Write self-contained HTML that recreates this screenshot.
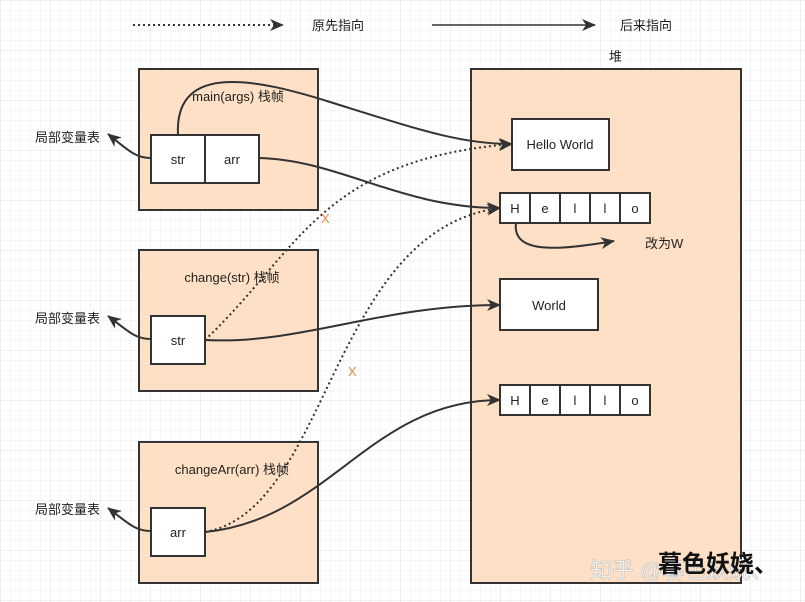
<!DOCTYPE html>
<html><head><meta charset="utf-8"><style>
body{margin:0;width:805px;height:602px;overflow:hidden;background:#fff;}
svg{display:block}
text{font-family:"Liberation Sans","Noto Sans CJK SC",sans-serif;font-size:13px;fill:#222;}
</style></head><body>
<svg width="805" height="602" viewBox="0 0 805 602" xmlns="http://www.w3.org/2000/svg">
<defs>
<pattern id="g" width="10" height="10" patternUnits="userSpaceOnUse"><path d="M10 0H0V10" fill="none" stroke="#eeeeee" stroke-width="1"/></pattern>
<pattern id="G" width="50" height="50" patternUnits="userSpaceOnUse"><rect width="50" height="50" fill="url(#g)"/><path d="M50 0H0V50" fill="none" stroke="#e2e2e2" stroke-width="1"/></pattern>
<marker id="a" markerWidth="14" markerHeight="12" refX="13" refY="6" orient="auto" markerUnits="userSpaceOnUse"><path d="M0,0 L14,6 L0,12 L4,6z" fill="#333"/></marker>
</defs>
<rect width="805" height="602" fill="url(#G)"/>
<path d="M133,25 H283" stroke="#333" stroke-width="2" stroke-dasharray="2,3" marker-end="url(#a)"/>
<text x="312" y="30">原先指向</text>
<path d="M432,25 H595" stroke="#333" stroke-width="1.5" marker-end="url(#a)"/>
<text x="620" y="30">后来指向</text>
<text x="609" y="61">堆</text>
<rect x="471" y="69" width="270" height="514" fill="#fde0c5" stroke="#333" stroke-width="2"/>
<rect x="512" y="119" width="97" height="51" fill="#fff" stroke="#333" stroke-width="2"/>
<text x="560" y="149" text-anchor="middle">Hello World</text>
<g stroke="#333" stroke-width="2" fill="#fff">
<rect x="500" y="193" width="150" height="30"/><path d="M530,193V223M560,193V223M590,193V223M620,193V223"/>
<rect x="500" y="279" width="98" height="51"/>
<rect x="500" y="385" width="150" height="30"/><path d="M530,385V415M560,385V415M590,385V415M620,385V415"/>
</g>
<g text-anchor="middle">
<text x="515" y="213">H</text><text x="545" y="213">e</text><text x="575" y="213">l</text><text x="605" y="213">l</text><text x="635" y="213">o</text>
<text x="549" y="310">World</text>
<text x="515" y="405">H</text><text x="545" y="405">e</text><text x="575" y="405">l</text><text x="605" y="405">l</text><text x="635" y="405">o</text>
</g>
<path d="M516,223 C512,255 560,250 614,241" fill="none" stroke="#333" stroke-width="2" marker-end="url(#a)"/>
<text x="645" y="248">改为W</text>
<g fill="#fde0c5" stroke="#333" stroke-width="2">
<rect x="139" y="69" width="179" height="141"/>
<rect x="139" y="250" width="179" height="141"/>
<rect x="139" y="442" width="179" height="141"/>
</g>
<text x="238" y="101" text-anchor="middle">main(args) 栈帧</text>
<text x="232" y="282" text-anchor="middle">change(str) 栈帧</text>
<text x="232" y="474" text-anchor="middle">changeArr(arr) 栈帧</text>
<g fill="#fff" stroke="#333" stroke-width="2">
<rect x="151" y="135" width="54" height="48"/><rect x="205" y="135" width="54" height="48"/>
<rect x="151" y="316" width="54" height="48"/>
<rect x="151" y="508" width="54" height="48"/>
</g>
<g text-anchor="middle">
<text x="178" y="164">str</text><text x="232" y="164">arr</text>
<text x="178" y="345">str</text><text x="178" y="537">arr</text>
</g>
<text x="35" y="142">局部变量表</text>
<text x="35" y="323">局部变量表</text>
<text x="35" y="514">局部变量表</text>
<g fill="none" stroke="#333" stroke-width="2" marker-end="url(#a)">
<path d="M151,158 C135,158 128,150 108,134"/>
<path d="M151,339 C135,339 128,331 108,316"/>
<path d="M151,531 C135,531 128,523 108,508"/>
<path d="M178,135 C174,60 260,80 330,102 C420,130 460,144 512,144"/>
<path d="M259,158 C340,160 400,208 500,208"/>
<path d="M205,340 C300,345 380,305 500,305"/>
<path d="M205,532 C330,520 370,400 500,400"/>
</g>
<g fill="none" stroke="#333" stroke-width="2" stroke-dasharray="2,3" marker-end="url(#a)">
<path d="M205,340 C300,250 320,160 512,144"/>
<path d="M205,532 C330,510 330,230 500,208"/>
</g>
<text x="321" y="223" style="fill:#e08a3c">X</text>
<text x="348" y="376" style="fill:#e08a3c">X</text>
<text x="590" y="578" style="font-size:22px;fill:#fff;stroke:#bbb;stroke-width:0.6">知乎 @暮色妖娆、</text>
<text x="658" y="572" style="font-size:24px;font-weight:bold;fill:#111">暮色妖娆、</text>
</svg>
</body></html>
